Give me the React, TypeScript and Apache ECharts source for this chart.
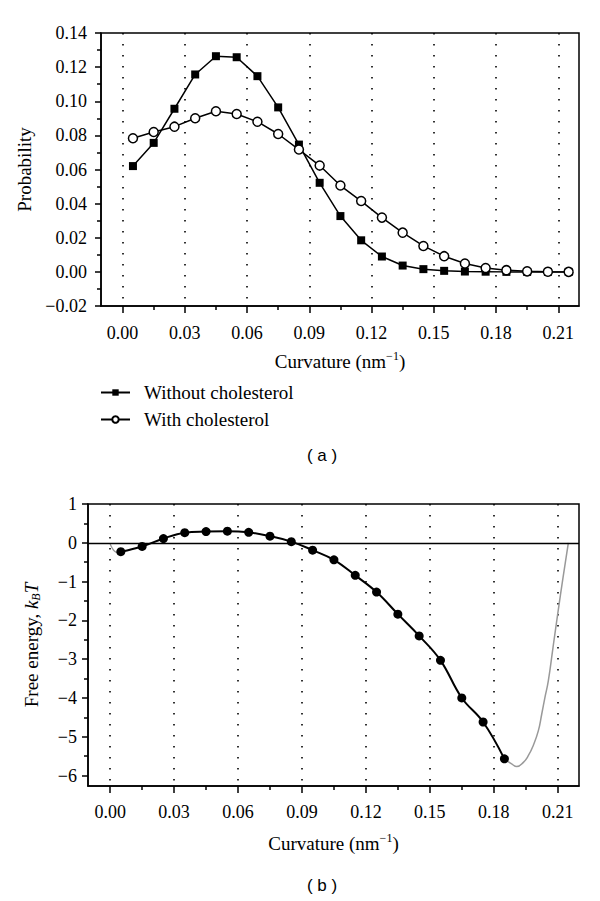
import React, { useEffect, useRef } from "react";
import * as echarts from "echarts";

// ---------- data (a) ----------
const X_A = [0.005, 0.015, 0.025, 0.035, 0.045, 0.055, 0.065, 0.075, 0.085, 0.095, 0.105, 0.115, 0.125, 0.135, 0.145, 0.155, 0.165, 0.175, 0.185, 0.195, 0.205, 0.215];
const WITHOUT_CHOL = [0.062, 0.0756, 0.0956, 0.1157, 0.1264, 0.1258, 0.1147, 0.0964, 0.0746, 0.0522, 0.0327, 0.0185, 0.009, 0.0037, 0.0016, 0.0006, 0.0002, 0.0001, 0, 0, 0, 0];
const WITH_CHOL = [0.0783, 0.082, 0.0851, 0.09, 0.0941, 0.0925, 0.088, 0.0808, 0.0717, 0.0623, 0.0506, 0.0415, 0.0318, 0.023, 0.0152, 0.0092, 0.0049, 0.0023, 0.001, 0.0003, 0.0001, 0];

// ---------- data (b) ----------
const X_B = [0.005, 0.015, 0.025, 0.035, 0.045, 0.055, 0.065, 0.075, 0.085, 0.095, 0.105, 0.115, 0.125, 0.135, 0.145, 0.155, 0.165, 0.175, 0.185];
const FREE_ENERGY = [-0.23, -0.095, 0.11, 0.26, 0.29, 0.3, 0.27, 0.17, 0.03, -0.19, -0.44, -0.84, -1.27, -1.84, -2.4, -3.03, -4.0, -4.62, -5.57];
const FIT_LEFT_X = [0.0, 0.001, 0.002, 0.0032, 0.005];
const FIT_LEFT_Y = [-0.03, -0.14, -0.21, -0.245, -0.23];
const FIT_RIGHT_X = [0.185, 0.1884, 0.1908, 0.1939, 0.1962, 0.1985, 0.2009, 0.2025, 0.204, 0.2056, 0.2078, 0.2101, 0.2125, 0.215];
const FIT_RIGHT_Y = [-5.57, -5.7, -5.77, -5.66, -5.49, -5.23, -4.85, -4.42, -3.99, -3.56, -2.7, -1.8, -0.9, 0];

// ---------- ticks ----------
const X_TICKS = [0, 0.03, 0.06, 0.09, 0.12, 0.15, 0.18, 0.21];
const X_MINOR = [0.015, 0.045, 0.075, 0.105, 0.135, 0.165, 0.195];
const Y_TICKS_B = [1, 0, -1, -2, -3, -4, -5, -6];
const Y_MINOR_B = [0.5, -0.5, -1.5, -2.5, -3.5, -4.5, -5.5];

const SERIF = '"Liberation Serif", "Times New Roman", serif';
const SANS = '"Liberation Sans", Arial, sans-serif';
const BLACK = "#000";

const fmt2 = (v: number) => (v < -1e-9 ? "\u2212" : "") + Math.abs(v).toFixed(2);
const fmtInt = (v: number) => (v < 0 ? "\u2212" + Math.abs(v) : String(Math.round(v)));

const zip = (xs: number[], ys: number[]) => xs.map((x, i) => [x, ys[i]]);

const tickLine = { color: BLACK, width: 1.5 };
const labelStyle = { fontFamily: SERIF, fontSize: 18, color: BLACK };

function mainX(gridIndex: number, margin: number, nameGap: number) {
  return {
    type: "value",
    gridIndex,
    min: -0.0104,
    max: 0.22,
    position: "bottom",
    axisLine: { show: true, onZero: false, lineStyle: { color: BLACK, width: 1.5 } },
    axisTick: { show: true, inside: false, length: 7, customValues: X_TICKS, lineStyle: tickLine },
    minorTick: { show: false },
    axisLabel: { show: true, customValues: X_TICKS, formatter: fmt2, margin, ...labelStyle },
    splitLine: { show: true, lineStyle: { color: BLACK, width: 1.6, type: [1.6, 9.4] } },
    name: "{n|Curvature (nm}{s|\u22121}{n|)}",
    nameLocation: "middle",
    nameGap,
    nameTextStyle: {
      fontFamily: SERIF,
      fontSize: 19,
      color: BLACK,
      rich: {
        n: { fontFamily: SERIF, fontSize: 19, color: BLACK, lineHeight: 22 },
        s: { fontFamily: SERIF, fontSize: 12, color: BLACK, lineHeight: 12, verticalAlign: "top" },
      },
    },
  };
}

function minorX(gridIndex: number) {
  return {
    type: "value",
    gridIndex,
    min: -0.0104,
    max: 0.22,
    position: "bottom",
    axisLine: { show: false, onZero: false },
    axisTick: { show: true, inside: false, length: 4, customValues: X_MINOR, lineStyle: tickLine },
    axisLabel: { show: false },
    splitLine: { show: false },
  };
}

export default function App() {
  const ref = useRef<HTMLDivElement>(null);

  useEffect(() => {
    if (!ref.current) return;
    const chart = echarts.init(ref.current, null, { renderer: "svg" });

    const option: any = {
      animation: false,
      backgroundColor: "#fff",
      grid: [
        { left: 101, top: 33, width: 478, height: 273, show: true, borderColor: BLACK, borderWidth: 1.5, backgroundColor: "transparent", containLabel: false },
        { left: 88, top: 504, width: 491, height: 282, show: true, borderColor: BLACK, borderWidth: 1.5, backgroundColor: "transparent", containLabel: false },
      ],
      xAxis: [mainX(0, 18, 44), minorX(0), mainX(1, 17, 46), minorX(1)],
      yAxis: [
        {
          type: "value",
          gridIndex: 0,
          min: -0.02,
          max: 0.14,
          interval: 0.02,
          position: "left",
          axisLine: { show: true, onZero: false, lineStyle: { color: BLACK, width: 1.5 } },
          axisTick: { show: true, inside: false, length: 6, lineStyle: tickLine },
          minorTick: { show: true, splitNumber: 2, length: 4, lineStyle: tickLine },
          axisLabel: { formatter: fmt2, margin: 14, ...labelStyle },
          splitLine: { show: false },
          name: "Probability",
          nameLocation: "middle",
          nameRotate: 90,
          nameGap: 59,
          nameTextStyle: { fontFamily: SERIF, fontSize: 19, color: BLACK },
        },
        {
          type: "value",
          gridIndex: 1,
          min: -6.27,
          max: 1,
          position: "left",
          axisLine: { show: true, onZero: false, lineStyle: { color: BLACK, width: 1.5 } },
          axisTick: { show: true, inside: false, length: 6, customValues: Y_TICKS_B, lineStyle: tickLine },
          axisLabel: { customValues: Y_TICKS_B, formatter: fmtInt, margin: 11, ...labelStyle },
          splitLine: { show: false },
          name: "{n|Free energy, }{i|k}{s|B}{i|T}",
          nameLocation: "middle",
          nameRotate: 90,
          nameGap: 46,
          nameTextStyle: {
            fontFamily: SERIF,
            fontSize: 19,
            color: BLACK,
            rich: {
              n: { fontFamily: SERIF, fontSize: 19, color: BLACK, lineHeight: 22 },
              i: { fontFamily: SERIF, fontSize: 19, fontStyle: "italic", color: BLACK, lineHeight: 22 },
              s: { fontFamily: SERIF, fontSize: 12, fontStyle: "italic", color: BLACK, lineHeight: 12, verticalAlign: "bottom" },
            },
          },
        },
        {
          type: "value",
          gridIndex: 1,
          min: -6.27,
          max: 1,
          position: "left",
          axisLine: { show: false, onZero: false },
          axisTick: { show: true, inside: false, length: 4, customValues: Y_MINOR_B, lineStyle: tickLine },
          axisLabel: { show: false },
          splitLine: { show: false },
        },
      ],
      legend: {
        data: ["Without cholesterol", "With cholesterol"],
        orient: "vertical",
        left: 100,
        top: 383,
        itemWidth: 29,
        itemHeight: 8,
        itemGap: 8,
        padding: 0,
        textStyle: { fontFamily: SERIF, fontSize: 19, color: BLACK, padding: [0, 0, 0, 9] },
        selectedMode: false,
      },
      graphic: [
        { type: "text", x: 322, y: 455, style: { text: "( a )", font: `17px ${SANS}`, fill: BLACK, align: "center", verticalAlign: "middle" } },
        { type: "text", x: 322, y: 885, style: { text: "( b )", font: `17px ${SANS}`, fill: BLACK, align: "center", verticalAlign: "middle" } },
      ],
      series: [
        {
          name: "Without cholesterol",
          type: "line",
          xAxisIndex: 0,
          yAxisIndex: 0,
          data: zip(X_A, WITHOUT_CHOL),
          symbol: "rect",
          symbolSize: 8,
          itemStyle: { color: BLACK },
          lineStyle: { color: BLACK, width: 1.5 },
          silent: true,
          z: 3,
        },
        {
          name: "With cholesterol",
          type: "line",
          xAxisIndex: 0,
          yAxisIndex: 0,
          data: zip(X_A, WITH_CHOL),
          symbol: "circle",
          symbolSize: 9,
          itemStyle: { color: "#fff", borderColor: BLACK, borderWidth: 1.5 },
          lineStyle: { color: BLACK, width: 1.5 },
          silent: true,
          z: 4,
        },
        {
          name: "fitLeft",
          type: "line",
          xAxisIndex: 2,
          yAxisIndex: 1,
          data: zip(FIT_LEFT_X, FIT_LEFT_Y),
          smooth: true,
          symbol: "none",
          lineStyle: { color: "#999", width: 1.3 },
          silent: true,
          z: 2,
        },
        {
          name: "fitRight",
          type: "line",
          xAxisIndex: 2,
          yAxisIndex: 1,
          data: zip(FIT_RIGHT_X, FIT_RIGHT_Y),
          smooth: true,
          symbol: "none",
          lineStyle: { color: "#999", width: 1.5 },
          silent: true,
          z: 2,
        },
        {
          name: "Free energy",
          type: "line",
          xAxisIndex: 2,
          yAxisIndex: 1,
          data: zip(X_B, FREE_ENERGY),
          smooth: 0.4,
          symbol: "circle",
          symbolSize: 9,
          itemStyle: { color: BLACK },
          lineStyle: { color: BLACK, width: 2 },
          silent: true,
          z: 3,
          markLine: {
            silent: true,
            symbol: ["none", "none"],
            label: { show: false },
            lineStyle: { color: BLACK, width: 1.3, type: "solid" },
            data: [{ yAxis: 0 }],
          },
        },
      ],
    };

    chart.setOption(option);
    return () => chart.dispose();
  }, []);

  return (
    <div
      ref={ref}
      style={{ position: "absolute", left: 0, top: 0, width: 600, height: 901, background: "#fff" }}
    />
  );
}
